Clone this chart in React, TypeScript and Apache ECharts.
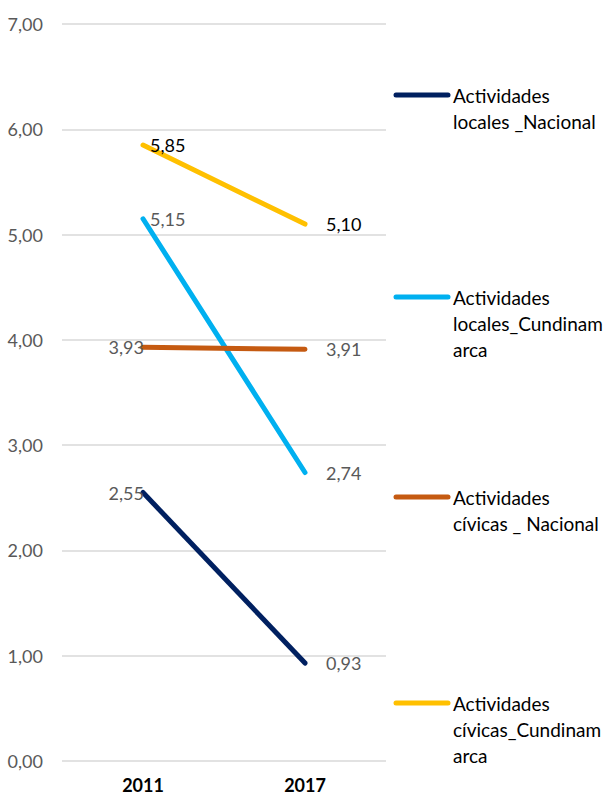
import React, { useEffect, useRef } from "react";
import * as echarts from "echarts";

const categories = ["2011", "2017"];
const seriesNames = [
  "Actividades locales _Nacional",
  "Actividades locales_Cundinamarca",
  "Actividades cívicas _ Nacional",
  "Actividades cívicas_Cundinamarca",
];
const legendLines = [
  ["Actividades", "locales _Nacional"],
  ["Actividades", "locales_Cundinam", "arca"],
  ["Actividades", "cívicas _ Nacional"],
  ["Actividades", "cívicas_Cundinam", "arca"],
];
const localesNacional = [2.55, 0.93];
const localesCundinamarca = [5.15, 2.74];
const civicasNacional = [3.93, 3.91];
const civicasCundinamarca = [5.85, 5.1];
const seriesValues = [localesNacional, localesCundinamarca, civicasNacional, civicasCundinamarca];
const colors = ["#002060", "#00B0F0", "#C55A11", "#FFC000"];
const yTicks = [0, 1, 2, 3, 4, 5, 6, 7];

const FONT = "Lato, 'Noto Sans', sans-serif";
const fmt = (v: number) => v.toFixed(2).replace(".", ",");

// label placement for the 2011 point of each series
const firstLabelPos = ["left", "right", "left", "right"];
const labelColors = ["#595959", "#595959", "#595959", "#000000"];
const legendY = [95, 297, 497, 703];

export default function App() {
  const ref = useRef<HTMLDivElement>(null);
  useEffect(() => {
    if (!ref.current) return;
    const chart = echarts.init(ref.current, undefined, { renderer: "svg" });
    const series = seriesValues.map((vals, si) => ({
      name: seriesNames[si],
      type: "line",
      label: {
        show: true,
        color: labelColors[si],
        fontFamily: FONT,
        fontSize: 18,
        formatter: (p: any) => fmt(p.value),
      },
      data: vals.map((v, i) => ({
        value: v,
        label: {
          position: i === 0 ? firstLabelPos[si] : "right",
          distance: i === 0 ? (firstLabelPos[si] === "left" ? -2 : 6) : 20,
        },
      })),
      symbol: "circle",
      symbolSize: 2,
      showSymbol: true,
      lineStyle: { color: colors[si], width: 5, cap: "round" },
      itemStyle: { color: "rgba(0,0,0,0)", borderWidth: 0 },
      z: 2 + si,
    }));
    const graphic: any[] = [];
    legendLines.forEach((lines, i) => {
      graphic.push({
        type: "line",
        shape: { x1: 396, y1: legendY[i], x2: 448, y2: legendY[i] },
        style: { stroke: colors[i], lineWidth: 5, lineCap: "round" },
      });
      lines.forEach((t, j) => {
        graphic.push({
          type: "text",
          x: 453,
          y: legendY[i] + j * 26,
          style: {
            text: t,
            fill: "#000000",
            font: `19px ${FONT}`,
            verticalAlign: "middle",
            align: "left",
          },
        });
      });
    });
    chart.setOption({
      animation: false,
      grid: { left: 62, right: 227, top: 24, bottom: 35, containLabel: false },
      xAxis: {
        type: "category",
        data: categories,
        boundaryGap: true,
        axisLine: { show: false },
        axisTick: { show: false },
        axisLabel: {
          color: "#000000",
          fontWeight: "bold",
          fontFamily: FONT,
          fontSize: 18,
          margin: 15,
        },
      },
      yAxis: {
        type: "value",
        min: yTicks[0],
        max: yTicks[yTicks.length - 1],
        interval: 1,
        axisLine: { show: false },
        axisTick: { show: false },
        splitLine: { lineStyle: { color: "#D9D9D9", width: 1.5 } },
        axisLabel: {
          color: "#595959",
          fontFamily: FONT,
          fontSize: 18,
          margin: 19,
          formatter: (v: number) => fmt(v),
        },
      },
      series,
      graphic,
    });
    return () => chart.dispose();
  }, []);
  return (
    <div
      ref={ref}
      style={{ position: "fixed", left: 0, top: 0, width: 613, height: 796, background: "#fff" }}
    />
  );
}
